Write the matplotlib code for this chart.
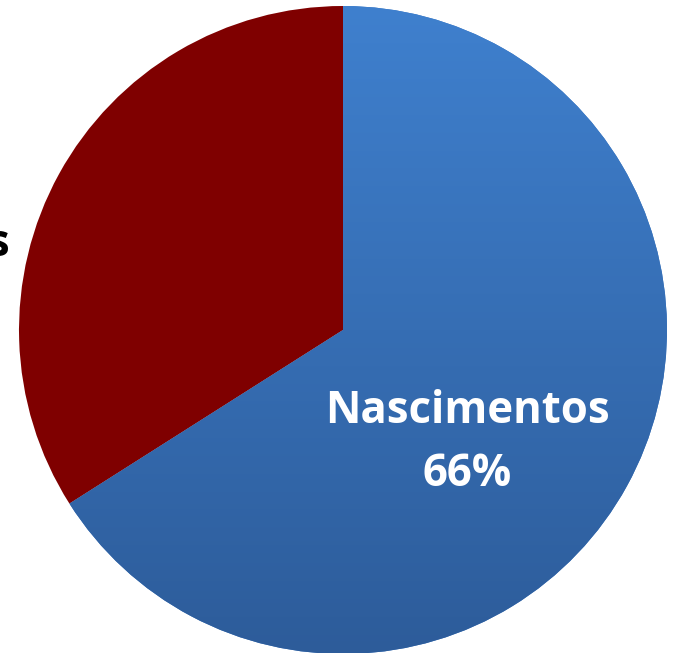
import matplotlib
matplotlib.use("Agg")
import matplotlib.pyplot as plt
import numpy as np
from matplotlib.colors import LinearSegmentedColormap

labels = ["Nascimentos", "Óbitos"]
values = [66, 34]
colors = ["#3A76C2", "#7F0000"]

W, H = 673, 653
fig = plt.figure(figsize=(W / 100, H / 100), dpi=100)
ax = fig.add_axes([0, 0, 1, 1])

cx, cy, r = 343, H - 330, 324
wedges, _ = ax.pie(values, colors=colors, startangle=90, counterclock=False,
                   center=(cx, cy), radius=r, frame=True,
                   wedgeprops=dict(linewidth=0))
ax.set_xlim(0, W)
ax.set_ylim(0, H)
ax.set_aspect("equal")
ax.axis("off")

# vertical gradient for the blue wedge
cmap = LinearSegmentedColormap.from_list("g", ["#2D5C9A", "#3F80CE"])
grad = np.linspace(0, 1, 256).reshape(-1, 1)
im = ax.imshow(grad, cmap=cmap, extent=(cx - r, cx + r, cy - r, cy + r),
               origin="lower", aspect="auto", zorder=wedges[0].get_zorder() + 0.1)
im.set_clip_path(wedges[0])

ax.text(467, H - 443, f"{labels[0]}\n{values[0]}%", color="white",
        fontsize=31.5, fontweight="bold", family="Open Sans",
        ha="center", va="center", linespacing=1.55, zorder=10)
ax.text(10, H - 276, f"{labels[1]}\n{values[1]}%", color="black",
        fontsize=31.5, fontweight="bold", family="Open Sans",
        ha="right", va="center", multialignment="center", linespacing=1.55, zorder=10)

fig.savefig("out.png", dpi=100)
